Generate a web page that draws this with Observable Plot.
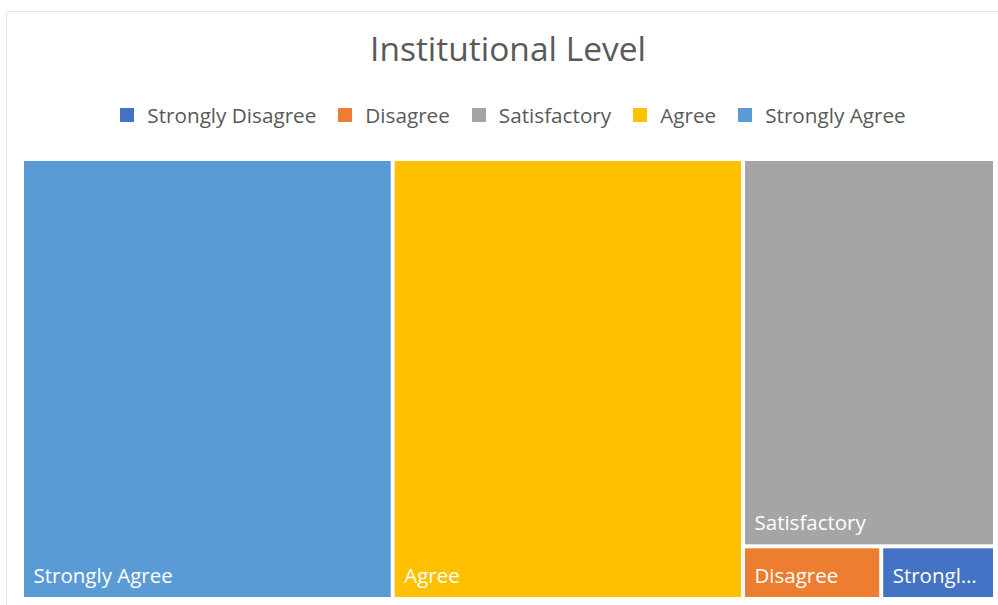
<!DOCTYPE html>
<html>
<head>
<meta charset="utf-8">
<script src="https://cdn.jsdelivr.net/npm/d3@7"></script>
<script src="https://cdn.jsdelivr.net/npm/@observablehq/plot@0.6"></script>
<style>
  html, body { margin: 0; padding: 0; background: #fff; }
  #wrap { position: relative; width: 998px; height: 605px; overflow: hidden; font-family: "Open Sans", sans-serif; }
  #frame { position: absolute; left: 6px; top: 11px; width: 1000px; height: 600px; border-top: 1px solid #e6e6e6; border-left: 1px solid #ececec; }
  #title { position: absolute; left: 0; width: 1016px; top: 26px; text-align: center; font-size: 33.5px; color: #595959; line-height: 44px; }
  #legend { position: absolute; left: 0; width: 1026px; top: 101px; display: flex; justify-content: center; font-size: 20.7px; color: #595959; line-height: 28px; }
  .item { display: flex; align-items: center; margin: 0 11px; }
  .sw { width: 14px; height: 14px; margin-right: 13px; }
  #chart { position: absolute; left: 0; top: 0; }
</style>
</head>
<body>
<div id="wrap">
  <div id="frame"></div>
  <div id="title"></div>
  <div id="legend"></div>
  <div id="chart"></div>
</div>
<script>
const title = "Institutional Level";
const categories = ["Strongly Disagree", "Disagree", "Satisfactory", "Agree", "Strongly Agree"];
const values = [1.4, 1.7, 22.8, 36.0, 38.1];
const colors = ["#4472C4", "#ED7D31", "#A5A5A5", "#FFC000", "#5B9BD5"];

document.getElementById("title").textContent = title;
const legend = document.getElementById("legend");
categories.forEach((c, i) => {
  const it = document.createElement("div");
  it.className = "item";
  const sw = document.createElement("div");
  sw.className = "sw";
  sw.style.background = colors[i];
  const t = document.createElement("span");
  t.textContent = c;
  it.appendChild(sw); it.appendChild(t);
  legend.appendChild(it);
});

const width = 998, height = 605;
const mL = 24, mR = 5, mT = 161, mB = 8;
const W = width - mL - mR, H = height - mT - mB;

const root = d3.hierarchy({children: categories.map((c, i) => ({name: c, value: values[i]}))})
  .sum(d => d.value || 0)
  .sort((a, b) => b.value - a.value);
d3.treemap().tile(d3.treemapSquarify).size([W, H]).paddingInner(4)(root);
const cells = root.leaves().map(l => ({name: l.data.name, x0: l.x0, x1: l.x1, y0: l.y0, y1: l.y1, w: l.x1 - l.x0}));

const wide = cells.filter(d => d.w > 140);
const narrow = cells.filter(d => d.w <= 140);

const chart = Plot.plot({
  width, height,
  marginLeft: mL, marginRight: mR, marginTop: mT, marginBottom: mB,
  x: {domain: [0, W], axis: null},
  y: {domain: [0, H], reverse: true, axis: null},
  color: {domain: categories, range: colors},
  style: {fontFamily: "Open Sans, sans-serif", background: "transparent"},
  marks: [
    Plot.rect(cells, {x1: "x0", x2: "x1", y1: "y0", y2: "y1", fill: "name"}),
    Plot.text(wide, {x: "x0", y: "y1", text: "name", fill: "white", fontSize: 20.5, textAnchor: "start", dx: 9, dy: -21, lineAnchor: "middle"}),
    Plot.text(narrow, {x: "x0", y: "y1", text: "name", fill: "white", fontSize: 20.5, textAnchor: "start", dx: 9, dy: -21, lineAnchor: "middle", lineWidth: 4.5, textOverflow: "ellipsis"})
  ]
});
document.getElementById("chart").appendChild(chart);
</script>
</body>
</html>
